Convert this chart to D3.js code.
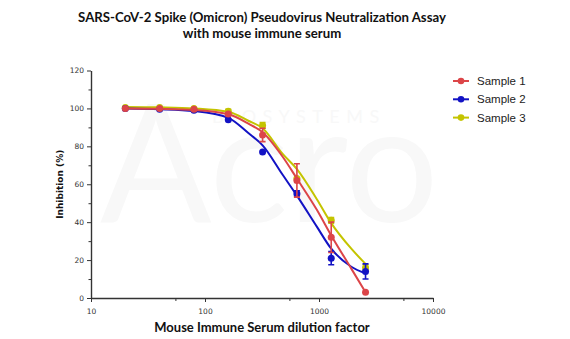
<!DOCTYPE html>
<html>
<head>
<meta charset="utf-8">
<script src="https://cdn.jsdelivr.net/npm/d3@7"></script>
<style>
    body { margin: 0; background: #fff; }
    svg { display: block; }
</style>
</head>
<body>
<div id="chart"></div>
<script>
// dilution points (x) and measured inhibition (%) per sample
const dilutions = [20, 40, 80, 160, 320, 640, 1280, 2560];
const sample1 = [100, 100, 99.5, 97, 86, 62, 32, 3];
const sample2 = [100, 99.5, 99, 94, 77, 55, 21, 14];
const sample3 = [100.5, 100.5, 100, 98.5, 91, 63, 41, 16];
const err1 = [0, 0, 0, 0.8, 3.5, 8.8, 8, 0];
const err2 = [0, 0, 0, 0, 0, 1.5, 3.5, 4];
const err3 = [0, 0, 0, 1, 1.5, 0, 1.5, 1.5];

// fitted curves
const fitX = [20, 40, 80, 160, 240, 320, 480, 640, 960, 1280, 1920, 2560];
const fit1 = [100, 99.8, 99.2, 96.9, 92, 87.4, 74.5, 63, 46.4, 33, 15.5, 3];
const fit2 = [100, 99.6, 98.6, 95, 87, 80.5, 65, 54, 37.5, 26, 16.5, 13];
const fit3 = [100.8, 100.6, 100, 98.2, 93.5, 89.5, 76, 68, 52, 39.5, 26, 18];

const sampleNames = ["Sample 1", "Sample 2", "Sample 3"];
const colors = ["#dc4548", "#1212c4", "#c4c400"];

const xTicks = [10, 100, 1000, 10000];
const xMinor = [55, 550, 5500];
const yTicks = [0, 20, 40, 60, 80, 100, 120];
const yMinor = [10, 30, 50, 70, 90, 110];

const width = 570, height = 339;

const svg = d3.select("#chart").append("svg")
    .attr("width", width)
    .attr("height", height);

svg.append("rect").attr("width", width).attr("height", height).attr("fill", "#fff");

// faint logo in the background
const wm = svg.append("text").attr("fill", "#f8f8f8").attr("font-family", "Lato, sans-serif");
wm.append("tspan").attr("x", 100).attr("y", 222)
    .attr("font-size", 165).text("Acro");
wm.append("tspan").attr("x", 212).attr("y", 123)
    .attr("font-size", 18).attr("letter-spacing", 6.5)
    .text("BIOSYSTEMS");

const x = d3.scaleLog().domain([10, 10000]).range([91, 433]);
const y = d3.scaleLinear().domain([0, 120]).range([298, 70.5]);

// axes
const xAxis = svg.append("g")
    .attr("transform", `translate(0,${y(0)})`)
    .call(d3.axisBottom(x).tickValues(xTicks).tickFormat(d3.format("d")).tickSize(4).tickSizeOuter(0));

svg.append("g")
    .attr("transform", `translate(0,${y(0)})`)
    .call(d3.axisBottom(x).tickValues(xMinor).tickFormat("").tickSize(3).tickSizeOuter(0))
    .select(".domain").remove();

svg.append("g")
    .attr("transform", `translate(${x(10)},0)`)
    .call(d3.axisLeft(y).tickValues(yTicks).tickSize(4).tickSizeOuter(0));

svg.append("g")
    .attr("transform", `translate(${x(10)},0)`)
    .call(d3.axisLeft(y).tickValues(yMinor).tickFormat("").tickSize(2.5).tickSizeOuter(0))
    .select(".domain").remove();

svg.selectAll(".domain").attr("stroke", "#333").attr("stroke-width", 1.4);
svg.selectAll(".tick line").attr("stroke", "#333").attr("stroke-width", 1);
svg.selectAll(".tick text")
    .attr("font-family", "DejaVu Sans, sans-serif")
    .attr("font-size", 7.5)
    .attr("fill", "#333");
xAxis.selectAll(".tick text").attr("dy", "1.2em");

// titles
const title = svg.append("g")
    .attr("font-family", "Lato, sans-serif")
    .attr("font-weight", 700)
    .attr("font-size", 13.2)
    .attr("fill", "#111")
    .attr("text-anchor", "middle");
title.append("text").attr("x", 262).attr("y", 22).text("SARS-CoV-2 Spike (Omicron) Pseudovirus Neutralization Assay");
title.append("text").attr("x", 262).attr("y", 38).text("with mouse immune serum");

svg.append("text")
    .attr("x", 262).attr("y", 332)
    .attr("text-anchor", "middle")
    .attr("font-family", "Lato, sans-serif")
    .attr("font-weight", 700)
    .attr("font-size", 13)
    .attr("fill", "#111")
    .text("Mouse Immune Serum dilution factor");

svg.append("text")
    .attr("transform", `translate(63,${y(60)}) rotate(-90)`)
    .attr("text-anchor", "middle")
    .attr("font-family", "DejaVu Sans, sans-serif")
    .attr("font-weight", 700)
    .attr("font-size", 9)
    .attr("fill", "#111")
    .text("Inhibition (%)");

// series, drawn back to front
const series = [
    { fit: fit3, pts: sample3, err: err3, color: colors[2] },
    { fit: fit2, pts: sample2, err: err2, color: colors[1] },
    { fit: fit1, pts: sample1, err: err1, color: colors[0] }
];

const line = d3.line()
    .x(d => x(d[0]))
    .y(d => y(d[1]))
    .curve(d3.curveMonotoneX);

series.forEach(s => {
    const g = svg.append("g");

    g.append("path")
        .datum(fitX.map((d, i) => [d, s.fit[i]]))
        .attr("d", line)
        .attr("fill", "none")
        .attr("stroke", s.color)
        .attr("stroke-width", 2);

    const bars = dilutions.map((d, i) => ({ d, v: s.pts[i], e: s.err[i] })).filter(p => p.e > 0);

    g.selectAll(".bar").data(bars).enter().append("path")
        .attr("d", p => {
            const cx = x(p.d), y1 = y(p.v + p.e), y2 = y(p.v - p.e);
            return `M${cx - 3},${y1}H${cx + 3}M${cx},${y1}V${y2}M${cx - 3},${y2}H${cx + 3}`;
        })
        .attr("fill", "none")
        .attr("stroke", s.color)
        .attr("stroke-width", 1.6);

    g.selectAll("circle").data(dilutions).enter().append("circle")
        .attr("cx", d => x(d))
        .attr("cy", (d, i) => y(s.pts[i]))
        .attr("r", 3.5)
        .attr("fill", s.color);
});

// legend
const legend = svg.append("g");
sampleNames.forEach((name, i) => {
    const ly = 81 + i * 18.3;
    legend.append("line")
        .attr("x1", 453).attr("x2", 469)
        .attr("y1", ly).attr("y2", ly)
        .attr("stroke", colors[i]).attr("stroke-width", 2);
    legend.append("circle")
        .attr("cx", 461).attr("cy", ly).attr("r", 3.3)
        .attr("fill", colors[i]);
    legend.append("text")
        .attr("x", 477).attr("y", ly + 4)
        .attr("font-family", "Liberation Sans, Arial, sans-serif")
        .attr("font-size", 11.5)
        .attr("fill", "#222")
        .text(name);
});
</script>
</body>
</html>
